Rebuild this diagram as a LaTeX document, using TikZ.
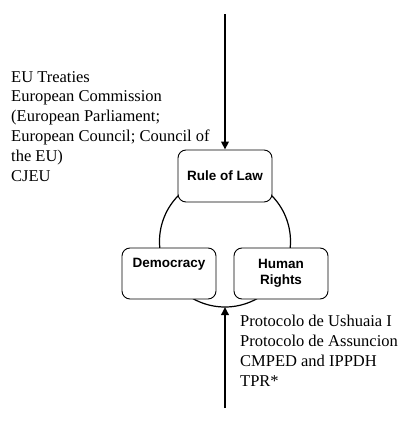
\documentclass[tikz,border=0pt]{standalone}
\usepackage{fontspec}
\setmainfont{Liberation Serif}
\newfontfamily\boxfont{Liberation Sans}
\usetikzlibrary{arrows.meta}
\tikzset{
  pillar/.style={draw=black, line width=0.9pt, rounded corners=8pt, fill=white,
    minimum width=94pt, minimum height=51pt, align=center, inner sep=0pt,
    font=\boxfont\bfseries\fontsize{13.5}{16}\selectfont},
  sidetext/.style={align=left, inner sep=0pt, font=\fontsize{16.5}{19.8}\selectfont},
  flow/.style={line width=1.8pt, -{Triangle[length=8pt,width=7.5pt]}},
  ring/.style={draw=black, line width=1.2pt}
}
\begin{document}
\begin{tikzpicture}[x=1pt,y=-1pt]
\useasboundingbox (0,0) rectangle (399,434);
\coordinate (cc) at (225,241.5);
\draw[ring] (cc) circle[radius=65.5];
\coordinate (rb) at (225,307);
\node[pillar, minimum height=52pt] (law) at (225,176) {Rule of Law};
\node[pillar] (dem) at (169,273.5) {Democracy\\ \strut};
\node[pillar] (hr) at (281,273.5) {Human\\Rights};
\coordinate (topend) at (225,14);
\coordinate (botend) at (225,408);
\draw[flow] (topend) -- (law.north);
\draw[flow] (botend) -- (rb);
\node[sidetext, anchor=base west] (eu) at (11,181) {EU Treaties\\European Commission\\(European Parliament;\\European Council; Council of\\the EU)\\CJEU};
\node[sidetext, anchor=base west] (ms) at (240,386) {Protocolo de Ushuaia I\\Protocolo de Assuncion\\CMPED and IPPDH\\TPR*};
\end{tikzpicture}
\end{document}
